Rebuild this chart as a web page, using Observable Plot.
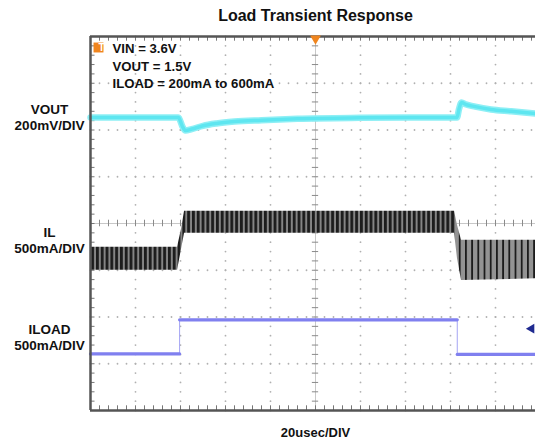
<!DOCTYPE html>
<html><head><meta charset="utf-8">
<script src="https://cdn.jsdelivr.net/npm/d3@7"></script>
<script src="https://cdn.jsdelivr.net/npm/@observablehq/plot@0.6"></script>
<style>
body{margin:0;background:#fff;}
svg text{font-family:"Liberation Sans",Arial,sans-serif;}
</style></head><body><div id="chart"></div>
<script>
// ---- data (time in µs, vertical position in screen divisions) ----
const titleText = "Load Transient Response";
const timebaseLabel = "20usec/DIV";
const conditions = ["VIN = 3.6V", "VOUT = 1.5V", "ILOAD = 200mA to 600mA"];
const channelNames = ["VOUT", "IL", "ILOAD"];
const channelScales = ["200mV/DIV", "500mA/DIV", "500mA/DIV"];

const voutTime = [-100, -61, -60.6, -59.2, -57.8, -55, -50, -44, -36, -24, -8, 20, 62.9, 63.8, 64.9, 66.7, 71, 78, 87, 97.8, 100];
const voutDiv  = [2.27, 2.27, 2.25, 2.08, 1.99, 2.02, 2.09, 2.14, 2.18, 2.21, 2.24, 2.26, 2.27, 2.45, 2.59, 2.55, 2.50, 2.44, 2.40, 2.35, 2.34];

const ilTime  = [-100, -61.3, -59.5, -58.2, 61.8, 63.1, 64.9, 100];
const ilUpper = [-0.51, -0.51, -0.11, 0.26, 0.26, -0.04, -0.36, -0.36];
const ilLower = [-1.00, -1.00, -0.54, -0.21, -0.21, -0.75, -1.22, -1.18];

const iloadTime = [-100, -60.4, -60.4, 63, 63, 100];
const iloadDiv  = [-2.79, -2.79, -2.06, -2.06, -2.80, -2.80];

const triggerTime = [0];
const triggerLevel = [-2.25];

// ---- graticule helpers ----
const xMajor = d3.range(-100, 100.001, 20);
const yMajor = d3.range(-4, 4.001, 1);
const xMinor = d3.range(-100, 100.001, 4);
const yMinor = d3.range(-4, 4.001, 0.2);
const innerX = xMajor.filter(v => Math.abs(v) > 1e-9 && Math.abs(v) < 99);
const innerY = yMajor.filter(v => Math.abs(v) > 1e-9 && Math.abs(v) < 3.99);
const vDots = innerX.flatMap(x => yMinor.map(y => ({x, y})));
const hDots = innerY.flatMap(y => xMinor.map(x => ({x, y})));

const idx = arr => arr.map((_, i) => i);
const ilEarly = idx(ilTime).filter(i => ilTime[i] <= 61.8);
const ilLate = idx(ilTime).filter(i => ilTime[i] >= 61.8);
// ILOAD horizontal segments: consecutive pairs of points
const iloadLevels = idx(iloadTime).map(i => ({t: iloadTime[i], v: iloadDiv[i], seg: Math.floor(i / 2)}));

const font = "Liberation Sans, Arial, sans-serif";

const chart = Plot.plot({
  width: 535, height: 444,
  marginTop: 36, marginBottom: 34, marginLeft: 90, marginRight: 0,
  x: {domain: [-100, 100], range: [90, 540], axis: null},
  y: {domain: [-4, 4], range: [410, 36], axis: null},
  style: {fontFamily: font, background: "#fff"},
  marks: [
    // dotted graticule
    Plot.dot(vDots, {x: "x", y: "y", r: 0.9, fill: "#b0b0b0"}),
    Plot.dot(hDots, {x: "x", y: "y", r: 0.9, fill: "#b0b0b0"}),
    // center cross with ticks
    Plot.ruleY([0], {stroke: "#c8c8c8", strokeWidth: 1}),
    Plot.ruleX([0], {stroke: "#c8c8c8", strokeWidth: 1}),
    Plot.ruleX(xMinor, {x: d => d, y1: -0.07, y2: 0.07, stroke: "#8a8a8a", strokeWidth: 1}),
    Plot.ruleY(yMinor, {y: d => d, x1: -1.4, x2: 1.4, stroke: "#8a8a8a", strokeWidth: 1}),
    // border ticks
    Plot.ruleX(xMinor, {x: d => d, y1: -4, y2: -3.9, stroke: "#777", strokeWidth: 1}),
    Plot.ruleX(xMinor, {x: d => d, y1: 4, y2: 3.9, stroke: "#777", strokeWidth: 1}),
    Plot.ruleY(yMinor, {y: d => d, x1: -100, x2: -98, stroke: "#777", strokeWidth: 1}),
    // IL ripple band
    Plot.areaY(ilEarly, {x: i => ilTime[i], y1: i => ilLower[i], y2: i => ilUpper[i], fill: "url(#ilDense)"}),
    Plot.areaY(ilLate, {x: i => ilTime[i], y1: i => ilLower[i], y2: i => ilUpper[i], fill: "url(#ilSparse)"}),
    // ILOAD: thin edges + thick levels
    Plot.line(iloadLevels, {x: "t", y: "v", stroke: "#a4a4f4", strokeWidth: 1}),
    Plot.line(iloadLevels, {x: "t", y: "v", z: "seg", stroke: "#8080ef", strokeWidth: 3.2}),
    // VOUT
    Plot.line(idx(voutTime), {x: i => voutTime[i], y: i => voutDiv[i], stroke: "#8eeff5", strokeWidth: 6.5, curve: "monotone-x"}),
    Plot.line(idx(voutTime), {x: i => voutTime[i], y: i => voutDiv[i], stroke: "#5ee6f0", strokeWidth: 3.5, curve: "monotone-x"}),
    // border
    Plot.ruleY([-4, 4], {stroke: "#555", strokeWidth: 2.5}),
    Plot.ruleX([-100], {stroke: "#555", strokeWidth: 2.5}),
    // trigger markers
    Plot.dot(triggerTime, {x: d => d, y: 4, symbol: "triangle", rotate: 180, r: 4, fill: "#f0851e", dy: 2}),
    Plot.dot(triggerLevel, {y: d => d, frameAnchor: "right", dx: -4, symbol: "triangle", rotate: -90, r: 3.6, fill: "#1f2a90"}),
    Plot.dot([0], {frameAnchor: "top-left", dx: 8, dy: 11, symbol: "square", r: 5.6, fill: "#f0851e"}),
    Plot.text(["T"], {frameAnchor: "top-left", dx: 8, dy: 11.5, fill: "#fff", fontSize: 10, fontWeight: "bold", lineAnchor: "middle"}),
    // texts
    Plot.text([conditions.join("\n")], {frameAnchor: "top-left", dx: 22, dy: 28.5, textAnchor: "start", lineAnchor: "middle", lineHeight: 1.3, fontSize: 13.2, fontWeight: "bold", fill: "#111"}),
    Plot.text([0], {x: d => d, text: () => titleText, frameAnchor: "top", dy: -21, lineAnchor: "middle", fontSize: 16, fontWeight: "bold", fill: "#111"}),
    Plot.text([0], {x: d => d, text: () => timebaseLabel, frameAnchor: "bottom", dy: 22, lineAnchor: "middle", fontSize: 13, fontWeight: "bold", fill: "#111"}),
    Plot.text(channelNames.map((n, i) => ({label: n + "\n" + channelScales[i], y: [2.29, -0.36, -2.42][i]})),
      {x: -100, y: "y", text: "label", dx: -41, textAnchor: "middle", lineAnchor: "middle", lineHeight: 1.18, fontSize: 13.5, fontWeight: "bold", fill: "#111"})
  ]
});

const defs = d3.select(chart).insert("defs", ":first-child");
const p1 = defs.append("pattern").attr("id", "ilDense").attr("patternUnits", "userSpaceOnUse").attr("width", 4.8).attr("height", 10);
p1.append("rect").attr("width", 4.8).attr("height", 10).attr("fill", "#858585");
p1.append("rect").attr("width", 2.8).attr("height", 10).attr("fill", "#1c1c1c");
const p2 = defs.append("pattern").attr("id", "ilSparse").attr("patternUnits", "userSpaceOnUse").attr("width", 6.2).attr("height", 10);
p2.append("rect").attr("width", 6.2).attr("height", 10).attr("fill", "#939393");
p2.append("rect").attr("width", 1.8).attr("height", 10).attr("fill", "#1c1c1c");

document.getElementById("chart").appendChild(chart);
</script></body></html>
